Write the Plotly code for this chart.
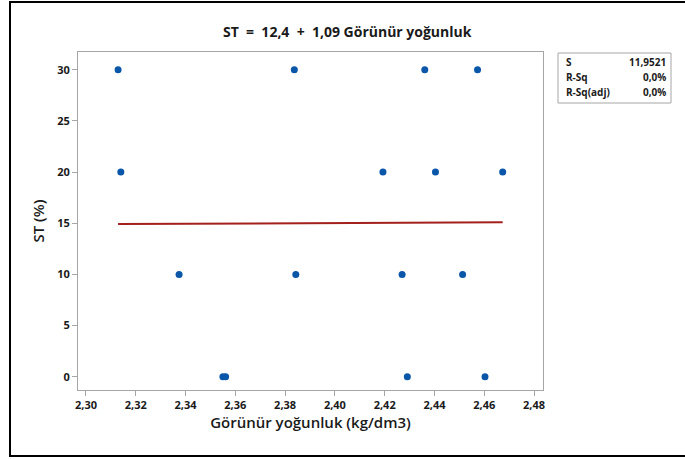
import plotly.graph_objects as go

# Measured samples: apparent density (kg/dm3) and ST (%)
density = [2.3129, 2.3140, 2.3374, 2.3550, 2.3561, 2.3837, 2.3843, 2.4193,
           2.4270, 2.4291, 2.4361, 2.4404, 2.4513, 2.4573, 2.4603, 2.4674]
st_pct = [30, 20, 10, 0, 0, 30, 10, 20, 10, 0, 30, 20, 10, 30, 0, 20]

# Fitted regression line coefficients and summary statistics
intercept = 12.4
slope = 1.09
summary_labels = ["S", "R-Sq", "R-Sq(adj)"]
summary_values = ["11,9521", "0,0%", "0,0%"]

x_ticks = [2.30, 2.32, 2.34, 2.36, 2.38, 2.40, 2.42, 2.44, 2.46, 2.48]
y_ticks = [0, 5, 10, 15, 20, 25, 30]

FONT = "Open Sans"
GRID = "#a6a6a6"
TXT = "#1a1a1a"

x_min, x_max = min(density), max(density)
fit_x = [x_min, x_max]
fit_y = [intercept + slope * v for v in fit_x]

fig = go.Figure()
fig.add_trace(go.Scatter(
    x=fit_x, y=fit_y, mode="lines",
    line=dict(color="#a3201c", width=2),
    showlegend=False,
))
fig.add_trace(go.Scatter(
    x=density, y=st_pct, mode="markers",
    marker=dict(color="#0a56a8", size=7),
    showlegend=False,
))

# Plot area spans 78..543 px horizontally and 52..390 px vertically
L, R, T, B = 78, 543, 52, 390
W, H = 685, 459


def px(xp):
    return (xp - L) / (R - L)


def py(yp):
    return (B - yp) / (B - T)


shapes = [
    # outer frame of the graph window
    dict(type="rect", xref="paper", yref="paper",
         x0=px(10), x1=px(700), y0=py(456), y1=py(2),
         line=dict(color="black", width=2), layer="above"),
    # summary box
    dict(type="rect", xref="paper", yref="paper",
         x0=px(558), x1=px(671), y0=py(103), y1=py(53),
         line=dict(color=GRID, width=1)),
]

title_text = f"ST&nbsp; =&nbsp; {intercept:.1f}&nbsp; +&nbsp; {slope:.2f} Görünür yoğunluk".replace(".", ",")
annotations = [
    dict(text=title_text, xref="paper", yref="paper",
         x=px(347), y=py(32), showarrow=False, xanchor="center", yanchor="middle",
         font=dict(family=FONT, size=14, color=TXT, weight=700)),
]
row_y = [62, 77, 92]
for lab, val, yy in zip(summary_labels, summary_values, row_y):
    annotations.append(dict(text=lab, xref="paper", yref="paper", x=px(564), y=py(yy),
                            showarrow=False, xanchor="left", yanchor="middle",
                            font=dict(family=FONT, size=10, color=TXT, weight=700)))
    annotations.append(dict(text=val, xref="paper", yref="paper", x=px(668), y=py(yy),
                            showarrow=False, xanchor="right", yanchor="middle",
                            font=dict(family=FONT, size=10, color=TXT, weight=700)))

fig.update_layout(
    width=W, height=H,
    margin=dict(l=L, r=W - R, t=T, b=H - B),
    paper_bgcolor="white", plot_bgcolor="white",
    separators=",.",
    shapes=shapes, annotations=annotations,
    font=dict(family=FONT, color=TXT),
)
fig.update_xaxes(
    range=[2.2968, 2.4836], tickvals=x_ticks, tickformat=".2f",
    showgrid=False, zeroline=False,
    showline=True, linecolor=GRID, linewidth=1, mirror=True,
    ticks="outside", ticklen=5, tickcolor=GRID,
    tickfont=dict(family=FONT, size=11, weight=700, color=TXT),
    title=dict(text="Görünür yoğunluk (kg/dm3)", standoff=3,
               font=dict(family=FONT, size=15, weight=600, color=TXT)),
)
fig.update_yaxes(
    range=[-1.3, 31.74], tickvals=y_ticks,
    showgrid=False, zeroline=False,
    showline=True, linecolor=GRID, linewidth=1, mirror=True,
    ticks="outside", ticklen=5, tickcolor=GRID,
    tickfont=dict(family=FONT, size=11, weight=700, color=TXT),
    title=dict(text="ST (%)", standoff=8,
               font=dict(family=FONT, size=15, weight=600, color=TXT)),
)

fig.write_html("out.html")
